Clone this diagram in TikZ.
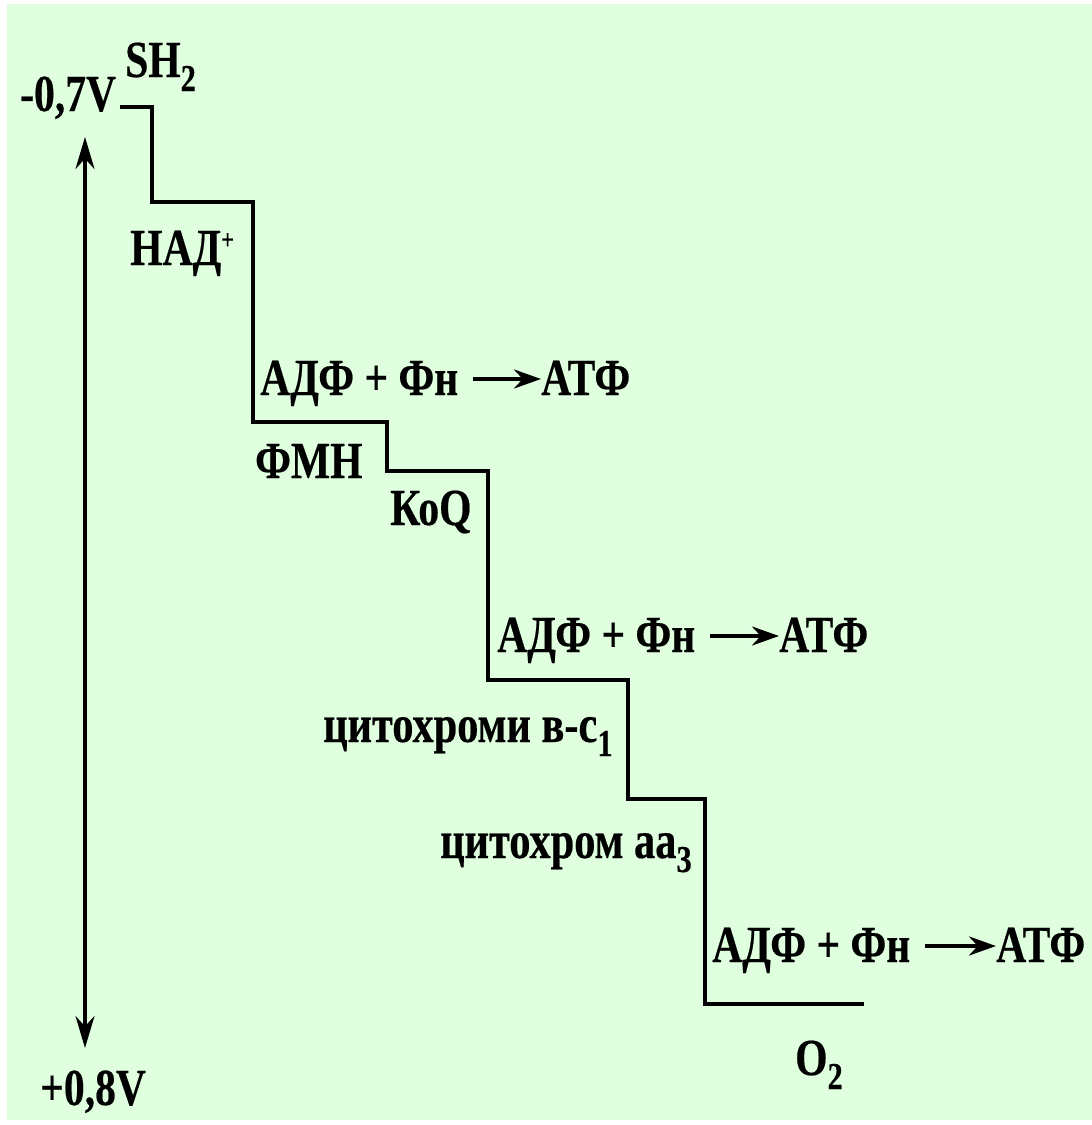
\documentclass[tikz,border=0pt]{standalone}
\usepackage{fontspec}
\setmainfont{Liberation Serif}[FakeStretch=0.8,BoldFeatures={FakeBold=0.4}]
\usepackage{xcolor}
\definecolor{palegreen}{RGB}{223,255,223}
\usepackage{tikz}
\usetikzlibrary{arrows.meta,positioning}
\newcommand{\lowix}[1]{\raisebox{-14pt}{\fontsize{38}{38}\selectfont #1}}
\newcommand{\upix}[1]{\raisebox{16pt}{\fontsize{28}{28}\selectfont #1}}
\tikzset{
  >={Stealth[length=27pt,width=19pt]},
  level/.style={line width=4pt},
  potential/.style={{Stealth[length=32pt,width=19pt]}-{Stealth[length=32pt,width=19pt]},line width=3.5pt},
  react/.style={->,line width=4pt},
  lbl/.style={inner sep=0pt,anchor=base west,font=\bfseries\fontsize{52}{56}\selectfont},
  cyt/.style={lbl,font=\bfseries\fontsize{53}{56}\selectfont}
}

\begin{document}
\begin{tikzpicture}[x=1pt,y=-1pt]
  % Background
  \fill[white] (0,0) rectangle (1092,1125);
  \fill[palegreen] (7,4) rectangle (1092,1120);

  % Redox staircase
  \draw[level] (120,107) -- (152,107) -- (152,202) -- (253,202) -- (253,422)
    -- (387,422) -- (387,471) -- (488,471) -- (488,680) -- (628,680)
    -- (628,799) -- (705,799) -- (705,1004) -- (864,1004);

  % Potential scale
  \node[lbl] (vhigh) at (20,111) {-0,7V};
  \node[lbl] (vlow) at (40,1105) {+0,8V};
  \coordinate (vtop) at (85,137);
  \coordinate (vbot) at (85,1048);
  \draw[potential] (vtop) -- (vbot);

  % Carriers
  \node[lbl] (sh) at (125,77) {SH\lowix{2}};
  \node[lbl] (nad) at (130,265) {НАД\upix{+}};
  \node[lbl] (fmn) at (255,478) {ФМН};
  \node[lbl] (koq) at (390,525) {КоQ};
  \node[cyt] (cytbc) at (323,742) {цитохроми в-с\lowix{1}};
  \node[cyt] (cytaa) at (440,858) {цитохром аа\lowix{3}};
  \node[lbl] (oxy) at (795,1075) {O\lowix{2}};

  % Phosphorylation sites
  \node[lbl] (adf1) at (260,395) {АДФ + Фн};
  \node[lbl] (atf1) at (541,395) {АТФ};
  \node[lbl] (adf2) at (497,652) {АДФ + Фн};
  \node[lbl] (atf2) at (779,652) {АТФ};
  \node[lbl] (adf3) at (712,962) {АДФ + Фн};
  \node[lbl] (atf3) at (996,962) {АТФ};
  \draw[react] ([xshift=15pt,yshift=16pt]adf1.base east) -- ([yshift=16pt]atf1.base west);
  \draw[react] ([xshift=15pt,yshift=16pt]adf2.base east) -- ([yshift=16pt]atf2.base west);
  \draw[react] ([xshift=15pt,yshift=16pt]adf3.base east) -- ([yshift=16pt]atf3.base west);
\end{tikzpicture}
\end{document}
